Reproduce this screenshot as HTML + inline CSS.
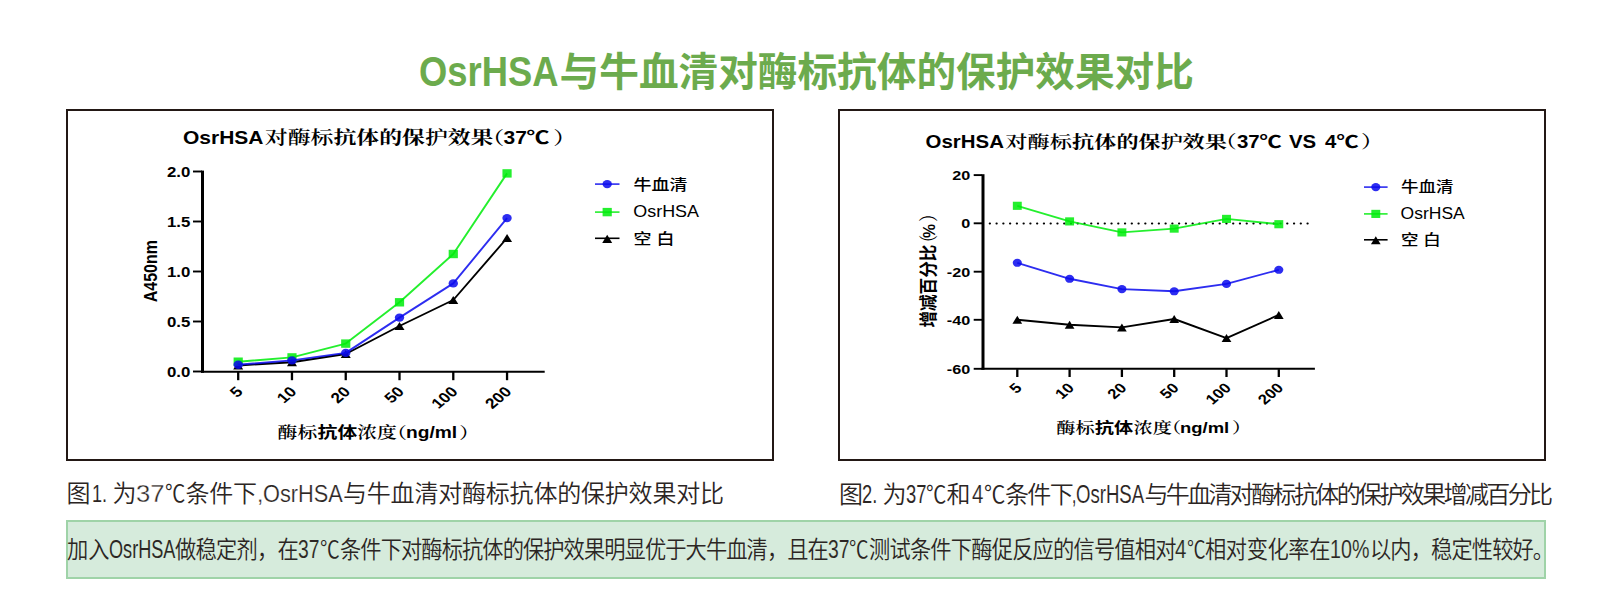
<!DOCTYPE html>
<html lang="zh-CN">
<head>
<meta charset="utf-8">
<title>OsrHSA与牛血清对酶标抗体的保护效果对比</title>
<style>
html,body{margin:0;padding:0;background:#fff;}
body{width:1619px;height:611px;position:relative;overflow:hidden;font-family:"Liberation Sans","Noto Sans CJK SC",sans-serif;}
.title{position:absolute;left:418.6px;top:42.1px;margin:0;white-space:nowrap;
  font-size:39.65px;line-height:58px;font-weight:bold;color:#6cab4d;letter-spacing:0;}
.title .lat{display:inline-block;font-size:43.2px;line-height:58px;transform:scaleX(0.842);transform-origin:0 50%;margin-right:-24.6px;vertical-align:baseline;}
.box{position:absolute;top:108.8px;height:352px;border:2.2px solid #231815;box-sizing:border-box;}
#b1{left:66.1px;width:708px;}
#b2{left:838px;width:708px;}
.cap{position:absolute;left:0;top:476.7px;width:1619px;height:34px;margin:0;font-size:24.0px;line-height:34px;font-weight:350;color:#2b2523;white-space:nowrap;}
.cap .sg{position:absolute;top:0;white-space:pre;}
.cap .in{display:inline-block;transform-origin:0 50%;line-height:1;white-space:pre;}
#n{top:533.0px;font-size:23.6px;color:#2b2523;}
#c2{top:477.5px;}
.note{position:absolute;left:66.2px;top:520px;width:1479.4px;height:58.6px;box-sizing:border-box;
  background:#d6ebdc;border:2px solid #9fd3a8;margin:0;}
svg{position:absolute;left:0;top:0;}
</style>
</head>
<body>
<h1 class="title"><span class="lat">OsrHSA</span>与牛血清对酶标抗体的保护效果对比</h1>
<div class="box" id="b1"></div>
<div class="box" id="b2"></div>
<svg width="1619" height="611" viewBox="0 0 1619 611">
<line x1="202.5" y1="170.6" x2="202.5" y2="372.8" stroke="#000" stroke-width="3"/>
<line x1="201" y1="371.8" x2="544.7" y2="371.8" stroke="#000" stroke-width="2"/>
<line x1="193" y1="371.5" x2="202" y2="371.5" stroke="#000" stroke-width="1.9"/>
<text transform="translate(190.3,376.6) scale(1.2,1)" font-family="'Liberation Sans','Noto Sans CJK SC',sans-serif" font-size="14" font-weight="bold" text-anchor="end" >0.0</text>
<line x1="193" y1="321.5" x2="202" y2="321.5" stroke="#000" stroke-width="1.9"/>
<text transform="translate(190.3,326.6) scale(1.2,1)" font-family="'Liberation Sans','Noto Sans CJK SC',sans-serif" font-size="14" font-weight="bold" text-anchor="end" >0.5</text>
<line x1="193" y1="271.5" x2="202" y2="271.5" stroke="#000" stroke-width="1.9"/>
<text transform="translate(190.3,276.6) scale(1.2,1)" font-family="'Liberation Sans','Noto Sans CJK SC',sans-serif" font-size="14" font-weight="bold" text-anchor="end" >1.0</text>
<line x1="193" y1="221.5" x2="202" y2="221.5" stroke="#000" stroke-width="1.9"/>
<text transform="translate(190.3,226.6) scale(1.2,1)" font-family="'Liberation Sans','Noto Sans CJK SC',sans-serif" font-size="14" font-weight="bold" text-anchor="end" >1.5</text>
<line x1="193" y1="171.5" x2="202" y2="171.5" stroke="#000" stroke-width="1.9"/>
<text transform="translate(190.3,176.6) scale(1.2,1)" font-family="'Liberation Sans','Noto Sans CJK SC',sans-serif" font-size="14" font-weight="bold" text-anchor="end" >2.0</text>
<line x1="238.20" y1="372" x2="238.20" y2="380.2" stroke="#000" stroke-width="2.3"/>
<text transform="translate(235.3,385.5) scale(1.2,1) rotate(-45)" font-family="'Liberation Sans','Noto Sans CJK SC',sans-serif" font-size="14.4" font-weight="bold" text-anchor="end" dy="10">5</text>
<line x1="291.97" y1="372" x2="291.97" y2="380.2" stroke="#000" stroke-width="2.3"/>
<text transform="translate(289.07,385.5) scale(1.2,1) rotate(-45)" font-family="'Liberation Sans','Noto Sans CJK SC',sans-serif" font-size="14.4" font-weight="bold" text-anchor="end" dy="10">10</text>
<line x1="345.74" y1="372" x2="345.74" y2="380.2" stroke="#000" stroke-width="2.3"/>
<text transform="translate(342.84,385.5) scale(1.2,1) rotate(-45)" font-family="'Liberation Sans','Noto Sans CJK SC',sans-serif" font-size="14.4" font-weight="bold" text-anchor="end" dy="10">20</text>
<line x1="399.51" y1="372" x2="399.51" y2="380.2" stroke="#000" stroke-width="2.3"/>
<text transform="translate(396.61,385.5) scale(1.2,1) rotate(-45)" font-family="'Liberation Sans','Noto Sans CJK SC',sans-serif" font-size="14.4" font-weight="bold" text-anchor="end" dy="10">50</text>
<line x1="453.28" y1="372" x2="453.28" y2="380.2" stroke="#000" stroke-width="2.3"/>
<text transform="translate(450.38,385.5) scale(1.2,1) rotate(-45)" font-family="'Liberation Sans','Noto Sans CJK SC',sans-serif" font-size="14.4" font-weight="bold" text-anchor="end" dy="10">100</text>
<line x1="507.05" y1="372" x2="507.05" y2="380.2" stroke="#000" stroke-width="2.3"/>
<text transform="translate(504.15,385.5) scale(1.2,1) rotate(-45)" font-family="'Liberation Sans','Noto Sans CJK SC',sans-serif" font-size="14.4" font-weight="bold" text-anchor="end" dy="10">200</text>
<text transform="translate(157.2,271.2) scale(1.2,1) rotate(-90)" font-family="'Liberation Sans','Noto Sans CJK SC',sans-serif" font-size="16" font-weight="bold" text-anchor="middle" >A450nm</text>
<text transform="translate(277.6,438.0) scale(1.253,1)" font-family="'Liberation Sans','Noto Serif CJK SC',serif" font-size="15.8" font-weight="600" text-anchor="start" >酶标</text><text transform="translate(317.6,438.0) scale(1.253,1)" font-family="'Liberation Sans','Noto Sans CJK SC',sans-serif" font-size="15.8" font-weight="bold" text-anchor="start" >抗体</text><text transform="translate(357.2,438.0) scale(1.253,1)" font-family="'Liberation Sans','Noto Serif CJK SC',serif" font-size="15.8" font-weight="600" text-anchor="start" >浓度</text><text transform="translate(387.0,438.0) scale(1.253,1)" font-family="'Liberation Sans','Noto Serif CJK SC',serif" font-size="15.8" font-weight="600" text-anchor="start" >（</text><text transform="translate(406.0,438.0) scale(1.2,1)" font-family="'Liberation Sans','Noto Sans CJK SC',sans-serif" font-size="16" font-weight="bold" text-anchor="start" >ng/ml</text><text transform="translate(459.3,438.0) scale(1.253,1)" font-family="'Liberation Sans','Noto Serif CJK SC',serif" font-size="15.8" font-weight="600" text-anchor="start" >）</text>
<text transform="translate(183.0,144.2) scale(1.154,1)" font-family="'Liberation Sans','Noto Sans CJK SC',sans-serif" font-size="18.2" font-weight="bold" text-anchor="start" >OsrHSA</text><text transform="translate(264.8,144.2) scale(1.272,1)" font-family="'Liberation Sans','Noto Serif CJK SC',serif" font-size="18.0" font-weight="600" text-anchor="start" >对酶标</text><text transform="translate(333.4,144.2) scale(1.272,1)" font-family="'Liberation Sans','Noto Serif CJK SC',serif" font-size="18.0" font-weight="700" text-anchor="start" >抗体的保</text><text transform="translate(425.0,144.2) scale(1.272,1)" font-family="'Liberation Sans','Noto Serif CJK SC',serif" font-size="18.0" font-weight="600" text-anchor="start" >护</text><text transform="translate(447.7,144.2) scale(1.272,1)" font-family="'Liberation Sans','Noto Serif CJK SC',serif" font-size="18.0" font-weight="700" text-anchor="start" >效果</text><text transform="translate(481.2,144.2) scale(1.272,1)" font-family="'Liberation Sans','Noto Serif CJK SC',serif" font-size="18.0" font-weight="600" text-anchor="start" >（</text><text transform="translate(503.6,144.2) scale(1.154,1)" font-family="'Liberation Sans','Noto Sans CJK SC',sans-serif" font-size="18.2" font-weight="bold" text-anchor="start" >37</text><text transform="translate(526.5,144.2) scale(1.272,1)" font-family="'Liberation Sans','Noto Sans CJK SC',sans-serif" font-size="18.0" font-weight="bold" text-anchor="start" >℃</text><text transform="translate(553.2,144.2) scale(1.272,1)" font-family="'Liberation Sans','Noto Serif CJK SC',serif" font-size="18.0" font-weight="600" text-anchor="start" >）</text>
<polyline points="238.20,365.50 291.97,362.20 345.74,354.00 399.51,326.00 453.28,300.00 507.05,238.00" fill="none" stroke="#000" stroke-width="1.9" stroke-linejoin="round"/>
<polygon points="238.20,361.40 243.20,369.60 233.20,369.60" fill="#000"/><polygon points="291.97,358.10 296.97,366.30 286.97,366.30" fill="#000"/><polygon points="345.74,349.90 350.74,358.10 340.74,358.10" fill="#000"/><polygon points="399.51,321.90 404.51,330.10 394.51,330.10" fill="#000"/><polygon points="453.28,295.90 458.28,304.10 448.28,304.10" fill="#000"/><polygon points="507.05,233.90 512.05,242.10 502.05,242.10" fill="#000"/>
<polyline points="238.20,361.70 291.97,357.40 345.74,343.60 399.51,302.30 453.28,254.00 507.05,173.40" fill="none" stroke="#00ec0c" stroke-width="1.9" stroke-linejoin="round" opacity="0.86"/>
<rect x="233.60" y="357.50" width="9.20" height="8.40" fill="#00ec0c" opacity="0.86"/><rect x="287.37" y="353.20" width="9.20" height="8.40" fill="#00ec0c" opacity="0.86"/><rect x="341.14" y="339.40" width="9.20" height="8.40" fill="#00ec0c" opacity="0.86"/><rect x="394.91" y="298.10" width="9.20" height="8.40" fill="#00ec0c" opacity="0.86"/><rect x="448.68" y="249.80" width="9.20" height="8.40" fill="#00ec0c" opacity="0.86"/><rect x="502.45" y="169.20" width="9.20" height="8.40" fill="#00ec0c" opacity="0.86"/>
<polyline points="238.20,364.70 291.97,360.40 345.74,352.90 399.51,317.60 453.28,283.40 507.05,218.10" fill="none" stroke="#0a0aee" stroke-width="1.9" stroke-linejoin="round" opacity="0.86"/>
<ellipse cx="238.2" cy="364.7" rx="4.70" ry="4.20" fill="#0a0aee" opacity="0.86"/><ellipse cx="291.96999999999997" cy="360.4" rx="4.70" ry="4.20" fill="#0a0aee" opacity="0.86"/><ellipse cx="345.74" cy="352.9" rx="4.70" ry="4.20" fill="#0a0aee" opacity="0.86"/><ellipse cx="399.51" cy="317.6" rx="4.70" ry="4.20" fill="#0a0aee" opacity="0.86"/><ellipse cx="453.28" cy="283.4" rx="4.70" ry="4.20" fill="#0a0aee" opacity="0.86"/><ellipse cx="507.05" cy="218.1" rx="4.70" ry="4.20" fill="#0a0aee" opacity="0.86"/>
<line x1="595" y1="184.1" x2="619.5" y2="184.1" stroke="#0a0aee" stroke-width="1.6" opacity="0.86"/>
<ellipse cx="607.2" cy="184.1" rx="4.70" ry="4.20" fill="#0a0aee" opacity="0.86"/>
<text transform="translate(633.5,189.5) scale(1.2,1)" font-family="'Liberation Sans','Noto Sans CJK SC',sans-serif" font-size="15" font-weight="500" text-anchor="start" >牛血清</text>
<line x1="595" y1="212.1" x2="619.5" y2="212.1" stroke="#00ec0c" stroke-width="1.6" opacity="0.86"/>
<rect x="602.60" y="207.90" width="9.20" height="8.40" fill="#00ec0c" opacity="0.86"/>
<text transform="translate(633.3,217.29999999999998) scale(1.107,1)" font-family="'Liberation Sans','Noto Sans CJK SC',sans-serif" font-size="16.2" font-weight="normal" text-anchor="start" >OsrHSA</text>
<line x1="595" y1="238.3" x2="619.5" y2="238.3" stroke="#000" stroke-width="1.6"/>
<polygon points="607.20,234.70 612.20,242.90 602.20,242.90" fill="#000"/>
<text transform="translate(633.5,243.70000000000002) scale(1.2,1)" font-family="'Liberation Sans','Noto Sans CJK SC',sans-serif" font-size="15" font-weight="500" text-anchor="start" >空 白</text>
<line x1="983" y1="174.2" x2="983" y2="369.8" stroke="#000" stroke-width="3"/>
<line x1="981.5" y1="368.8" x2="1314.9" y2="368.8" stroke="#000" stroke-width="2"/>
<line x1="973.7" y1="175.1" x2="982" y2="175.1" stroke="#000" stroke-width="1.9"/>
<text transform="translate(970.2,180.0) scale(1.2,1)" font-family="'Liberation Sans','Noto Sans CJK SC',sans-serif" font-size="13.5" font-weight="bold" text-anchor="end" >20</text>
<line x1="973.7" y1="223.3" x2="982" y2="223.3" stroke="#000" stroke-width="1.9"/>
<text transform="translate(970.2,228.20000000000002) scale(1.2,1)" font-family="'Liberation Sans','Noto Sans CJK SC',sans-serif" font-size="13.5" font-weight="bold" text-anchor="end" >0</text>
<line x1="973.7" y1="271.7" x2="982" y2="271.7" stroke="#000" stroke-width="1.9"/>
<text transform="translate(970.2,276.59999999999997) scale(1.2,1)" font-family="'Liberation Sans','Noto Sans CJK SC',sans-serif" font-size="13.5" font-weight="bold" text-anchor="end" >-20</text>
<line x1="973.7" y1="319.8" x2="982" y2="319.8" stroke="#000" stroke-width="1.9"/>
<text transform="translate(970.2,324.7) scale(1.2,1)" font-family="'Liberation Sans','Noto Sans CJK SC',sans-serif" font-size="13.5" font-weight="bold" text-anchor="end" >-40</text>
<line x1="973.7" y1="368.8" x2="982" y2="368.8" stroke="#000" stroke-width="1.9"/>
<text transform="translate(970.2,373.7) scale(1.2,1)" font-family="'Liberation Sans','Noto Sans CJK SC',sans-serif" font-size="13.5" font-weight="bold" text-anchor="end" >-60</text>
<line x1="1017.30" y1="369.2" x2="1017.30" y2="377" stroke="#000" stroke-width="2.3"/>
<text transform="translate(1014.4,381.8) scale(1.2,1) rotate(-45)" font-family="'Liberation Sans','Noto Sans CJK SC',sans-serif" font-size="13.9" font-weight="bold" text-anchor="end" dy="10">5</text>
<line x1="1069.60" y1="369.2" x2="1069.60" y2="377" stroke="#000" stroke-width="2.3"/>
<text transform="translate(1066.7,381.8) scale(1.2,1) rotate(-45)" font-family="'Liberation Sans','Noto Sans CJK SC',sans-serif" font-size="13.9" font-weight="bold" text-anchor="end" dy="10">10</text>
<line x1="1121.90" y1="369.2" x2="1121.90" y2="377" stroke="#000" stroke-width="2.3"/>
<text transform="translate(1119.0,381.8) scale(1.2,1) rotate(-45)" font-family="'Liberation Sans','Noto Sans CJK SC',sans-serif" font-size="13.9" font-weight="bold" text-anchor="end" dy="10">20</text>
<line x1="1174.20" y1="369.2" x2="1174.20" y2="377" stroke="#000" stroke-width="2.3"/>
<text transform="translate(1171.3,381.8) scale(1.2,1) rotate(-45)" font-family="'Liberation Sans','Noto Sans CJK SC',sans-serif" font-size="13.9" font-weight="bold" text-anchor="end" dy="10">50</text>
<line x1="1226.50" y1="369.2" x2="1226.50" y2="377" stroke="#000" stroke-width="2.3"/>
<text transform="translate(1223.6,381.8) scale(1.2,1) rotate(-45)" font-family="'Liberation Sans','Noto Sans CJK SC',sans-serif" font-size="13.9" font-weight="bold" text-anchor="end" dy="10">100</text>
<line x1="1278.80" y1="369.2" x2="1278.80" y2="377" stroke="#000" stroke-width="2.3"/>
<text transform="translate(1275.9,381.8) scale(1.2,1) rotate(-45)" font-family="'Liberation Sans','Noto Sans CJK SC',sans-serif" font-size="13.9" font-weight="bold" text-anchor="end" dy="10">200</text>
<line x1="989.7" y1="223.5" x2="1309" y2="223.5" stroke="#000" stroke-width="2" stroke-linecap="round" stroke-dasharray="0.3 6.46"/>
<text transform="translate(935.3,327.6) scale(1.09,1) rotate(-90)" font-family="'Liberation Sans','Noto Sans CJK SC',sans-serif" font-size="16.6" font-weight="700" text-anchor="start" >增减百分比</text>
<text transform="translate(935.5,251.0) scale(1.2,1) rotate(-90)" font-family="'Liberation Sans','Noto Serif CJK SC',serif" font-size="16.2" font-weight="500" text-anchor="start" >（</text>
<text transform="translate(935.3,237.9) scale(1.1,1) rotate(-90)" font-family="'Liberation Sans','Noto Sans CJK SC',sans-serif" font-size="15.8" font-weight="bold" text-anchor="start" >%</text>
<text transform="translate(935.5,222.0) scale(1.2,1) rotate(-90)" font-family="'Liberation Sans','Noto Serif CJK SC',serif" font-size="16.2" font-weight="500" text-anchor="start" >）</text>
<text transform="translate(1056.2,433.3) scale(1.255,1)" font-family="'Liberation Sans','Noto Serif CJK SC',serif" font-size="15.3" font-weight="600" text-anchor="start" >酶标</text><text transform="translate(1094.8,433.3) scale(1.255,1)" font-family="'Liberation Sans','Noto Sans CJK SC',sans-serif" font-size="15.3" font-weight="bold" text-anchor="start" >抗体</text><text transform="translate(1133.6,433.3) scale(1.255,1)" font-family="'Liberation Sans','Noto Serif CJK SC',serif" font-size="15.3" font-weight="600" text-anchor="start" >浓度</text><text transform="translate(1162.0,433.3) scale(1.255,1)" font-family="'Liberation Sans','Noto Serif CJK SC',serif" font-size="15.3" font-weight="600" text-anchor="start" >（</text><text transform="translate(1180.0,433.3) scale(1.2,1)" font-family="'Liberation Sans','Noto Sans CJK SC',sans-serif" font-size="15.4" font-weight="bold" text-anchor="start" >ng/ml</text><text transform="translate(1232.0,433.3) scale(1.255,1)" font-family="'Liberation Sans','Noto Serif CJK SC',serif" font-size="15.3" font-weight="600" text-anchor="start" >）</text>
<text transform="translate(925.6,147.6) scale(1.154,1)" font-family="'Liberation Sans','Noto Sans CJK SC',sans-serif" font-size="17.7" font-weight="bold" text-anchor="start" >OsrHSA</text><text transform="translate(1005.3,147.6) scale(1.269,1)" font-family="'Liberation Sans','Noto Serif CJK SC',serif" font-size="17.5" font-weight="600" text-anchor="start" >对酶标</text><text transform="translate(1072.0,147.6) scale(1.269,1)" font-family="'Liberation Sans','Noto Serif CJK SC',serif" font-size="17.5" font-weight="700" text-anchor="start" >抗体的保</text><text transform="translate(1160.8,147.6) scale(1.269,1)" font-family="'Liberation Sans','Noto Serif CJK SC',serif" font-size="17.5" font-weight="600" text-anchor="start" >护</text><text transform="translate(1182.6,147.6) scale(1.269,1)" font-family="'Liberation Sans','Noto Serif CJK SC',serif" font-size="17.5" font-weight="700" text-anchor="start" >效果</text><text transform="translate(1214.6,147.6) scale(1.269,1)" font-family="'Liberation Sans','Noto Serif CJK SC',serif" font-size="17.5" font-weight="600" text-anchor="start" >（</text><text transform="translate(1237.0,147.6) scale(1.154,1)" font-family="'Liberation Sans','Noto Sans CJK SC',sans-serif" font-size="17.7" font-weight="bold" text-anchor="start" >37</text><text transform="translate(1259.5,147.6) scale(1.269,1)" font-family="'Liberation Sans','Noto Sans CJK SC',sans-serif" font-size="17.5" font-weight="bold" text-anchor="start" >℃</text><text transform="translate(1289.0,147.6) scale(1.154,1)" font-family="'Liberation Sans','Noto Sans CJK SC',sans-serif" font-size="17.7" font-weight="bold" text-anchor="start" >VS</text><text transform="translate(1325.0,147.6) scale(1.154,1)" font-family="'Liberation Sans','Noto Sans CJK SC',sans-serif" font-size="17.7" font-weight="bold" text-anchor="start" >4</text><text transform="translate(1336.5,147.6) scale(1.269,1)" font-family="'Liberation Sans','Noto Sans CJK SC',sans-serif" font-size="17.5" font-weight="bold" text-anchor="start" >℃</text><text transform="translate(1360.9,147.6) scale(1.269,1)" font-family="'Liberation Sans','Noto Serif CJK SC',serif" font-size="17.5" font-weight="600" text-anchor="start" >）</text>
<polyline points="1017.30,319.80 1069.60,324.70 1121.90,327.40 1174.20,319.00 1226.50,338.10 1278.80,314.90" fill="none" stroke="#000" stroke-width="1.9" stroke-linejoin="round"/>
<polygon points="1017.30,315.82 1022.15,323.78 1012.45,323.78" fill="#000"/><polygon points="1069.60,320.72 1074.45,328.68 1064.75,328.68" fill="#000"/><polygon points="1121.90,323.42 1126.75,331.38 1117.05,331.38" fill="#000"/><polygon points="1174.20,315.02 1179.05,322.98 1169.35,322.98" fill="#000"/><polygon points="1226.50,334.12 1231.35,342.08 1221.65,342.08" fill="#000"/><polygon points="1278.80,310.92 1283.65,318.88 1273.95,318.88" fill="#000"/>
<polyline points="1017.30,205.80 1069.60,221.40 1121.90,232.40 1174.20,228.60 1226.50,218.90 1278.80,224.20" fill="none" stroke="#00ec0c" stroke-width="1.9" stroke-linejoin="round" opacity="0.86"/>
<rect x="1012.84" y="201.73" width="8.92" height="8.15" fill="#00ec0c" opacity="0.86"/><rect x="1065.14" y="217.33" width="8.92" height="8.15" fill="#00ec0c" opacity="0.86"/><rect x="1117.44" y="228.33" width="8.92" height="8.15" fill="#00ec0c" opacity="0.86"/><rect x="1169.74" y="224.53" width="8.92" height="8.15" fill="#00ec0c" opacity="0.86"/><rect x="1222.04" y="214.83" width="8.92" height="8.15" fill="#00ec0c" opacity="0.86"/><rect x="1274.34" y="220.13" width="8.92" height="8.15" fill="#00ec0c" opacity="0.86"/>
<polyline points="1017.30,262.80 1069.60,278.80 1121.90,289.10 1174.20,291.30 1226.50,283.90 1278.80,269.80" fill="none" stroke="#0a0aee" stroke-width="1.9" stroke-linejoin="round" opacity="0.86"/>
<ellipse cx="1017.3" cy="262.8" rx="4.56" ry="4.07" fill="#0a0aee" opacity="0.86"/><ellipse cx="1069.6" cy="278.8" rx="4.56" ry="4.07" fill="#0a0aee" opacity="0.86"/><ellipse cx="1121.8999999999999" cy="289.1" rx="4.56" ry="4.07" fill="#0a0aee" opacity="0.86"/><ellipse cx="1174.1999999999998" cy="291.3" rx="4.56" ry="4.07" fill="#0a0aee" opacity="0.86"/><ellipse cx="1226.5" cy="283.9" rx="4.56" ry="4.07" fill="#0a0aee" opacity="0.86"/><ellipse cx="1278.8" cy="269.8" rx="4.56" ry="4.07" fill="#0a0aee" opacity="0.86"/>
<line x1="1364" y1="187.1" x2="1387.6" y2="187.1" stroke="#0a0aee" stroke-width="1.6" opacity="0.86"/>
<ellipse cx="1375.8" cy="187.1" rx="4.56" ry="4.07" fill="#0a0aee" opacity="0.86"/>
<text transform="translate(1401.0,192.29999999999998) scale(1.2,1)" font-family="'Liberation Sans','Noto Sans CJK SC',sans-serif" font-size="14.6" font-weight="500" text-anchor="start" >牛血清</text>
<line x1="1364" y1="213.9" x2="1387.6" y2="213.9" stroke="#00ec0c" stroke-width="1.6" opacity="0.86"/>
<rect x="1371.34" y="209.83" width="8.92" height="8.15" fill="#00ec0c" opacity="0.86"/>
<text transform="translate(1400.6,218.9) scale(1.107,1)" font-family="'Liberation Sans','Noto Sans CJK SC',sans-serif" font-size="15.8" font-weight="normal" text-anchor="start" >OsrHSA</text>
<line x1="1364" y1="239.8" x2="1387.6" y2="239.8" stroke="#000" stroke-width="1.6"/>
<polygon points="1375.80,236.32 1380.65,244.28 1370.95,244.28" fill="#000"/>
<text transform="translate(1401.0,245.0) scale(1.2,1)" font-family="'Liberation Sans','Noto Sans CJK SC',sans-serif" font-size="14.6" font-weight="500" text-anchor="start" >空 白</text>
</svg>
<p class="cap" id="c1"><span class="sg" style="left:66.60px"><span class="in" id="c1s0" style="letter-spacing:1.700px;">图</span></span><span class="sg" style="left:92.30px"><span class="in lat" id="c1s1" style="font-size:24.7px;-webkit-text-stroke:0.08px #fff;transform:scaleX(0.7322);">1. </span></span><span class="sg" style="left:112.40px"><span class="in" id="c1s2" style="letter-spacing:0.000px;">为</span></span><span class="sg" style="left:136.40px"><span class="in lat" id="c1s3" style="font-size:24.7px;-webkit-text-stroke:0.35px #fff;transform:scaleX(1.0412);">37</span></span><span class="sg" style="left:165.00px"><span class="in" id="c1s4" style="transform:scaleX(0.8500);">℃</span></span><span class="sg" style="left:185.40px"><span class="in" id="c1s5" style="letter-spacing:-0.133px;">条件下</span></span><span class="sg" style="left:257.00px"><span class="in lat" id="c1s6" style="font-size:24.7px;-webkit-text-stroke:0.27px #fff;transform:scaleX(0.9185);">,</span></span><span class="sg" style="left:263.30px"><span class="in lat" id="c1s7" style="font-size:24.7px;-webkit-text-stroke:0.23px #fff;transform:scaleX(0.8804);">OsrHSA</span></span><span class="sg" style="left:343.00px"><span class="in" id="c1s8" style="letter-spacing:-0.200px;">与牛血清对酶标抗体的保护效果对比</span></span></p>
<p class="cap" id="c2"><span class="sg" style="left:839.00px"><span class="in" id="c2s0" style="letter-spacing:-0.700px;">图</span></span><span class="sg" style="left:862.30px"><span class="in lat" id="c2s1" style="font-size:24.9px;-webkit-text-stroke:0.08px #fff;transform:scaleX(0.7332);">2. </span></span><span class="sg" style="left:882.60px"><span class="in" id="c2s2" style="letter-spacing:-1.100px;">为</span></span><span class="sg" style="left:905.50px"><span class="in lat" id="c2s3" style="font-size:24.9px;-webkit-text-stroke:0.09px #fff;transform:scaleX(0.7404);">37</span></span><span class="sg" style="left:926.00px"><span class="in" id="c2s4" style="transform:scaleX(0.8500);">℃</span></span><span class="sg" style="left:946.40px"><span class="in" id="c2s5" style="letter-spacing:1.800px;">和</span></span><span class="sg" style="left:972.20px"><span class="in lat" id="c2s6" style="font-size:24.9px;-webkit-text-stroke:0.17px #fff;transform:scaleX(0.8235);">4</span></span><span class="sg" style="left:983.60px"><span class="in" id="c2s7" style="transform:scaleX(0.8917);">℃</span></span><span class="sg" style="left:1005.00px"><span class="in" id="c2s8" style="letter-spacing:-1.667px;">条件下</span></span><span class="sg" style="left:1072.00px"><span class="in lat" id="c2s9" style="font-size:24.9px;-webkit-text-stroke:0.00px #fff;transform:scaleX(0.6212);">,</span></span><span class="sg" style="left:1076.30px"><span class="in lat" id="c2s10" style="font-size:24.9px;-webkit-text-stroke:0.10px #fff;transform:scaleX(0.7460);">OsrHSA</span></span><span class="sg" style="left:1144.40px"><span class="in" id="c2s11" style="letter-spacing:-2.632px;">与牛血清对酶标抗体的保护效果增减百分比</span></span></p>
<div class="note"></div>
<p class="cap" id="n"><span class="sg" style="left:66.60px"><span class="in" id="ns0" style="letter-spacing:-0.038px;transform:scaleX(0.9);">加入</span></span><span class="sg" style="left:109.00px"><span class="in lat" id="ns1" style="font-size:25.0px;-webkit-text-stroke:0.07px #d6ebdc;transform:scaleX(0.7242);">OsrHSA</span></span><span class="sg" style="left:175.40px"><span class="in" id="ns2" style="letter-spacing:-0.834px;transform:scaleX(0.9);">做稳定剂，在</span></span><span class="sg" style="left:298.30px"><span class="in lat" id="ns3" style="font-size:25.0px;-webkit-text-stroke:0.12px #d6ebdc;transform:scaleX(0.7730);">37</span></span><span class="sg" style="left:319.80px"><span class="in" id="ns4" style="transform:scaleX(0.8392);">℃</span></span><span class="sg" style="left:339.60px"><span class="in" id="ns5" style="letter-spacing:-1.006px;transform:scaleX(0.9);">条件下对酶标抗体的保护效果明显优于大牛血清，且在</span></span><span class="sg" style="left:827.50px"><span class="in lat" id="ns6" style="font-size:25.0px;-webkit-text-stroke:0.13px #d6ebdc;transform:scaleX(0.7766);">37</span></span><span class="sg" style="left:849.10px"><span class="in" id="ns7" style="transform:scaleX(0.8307);">℃</span></span><span class="sg" style="left:868.70px"><span class="in" id="ns8" style="letter-spacing:-0.875px;transform:scaleX(0.9);">测试条件下酶促反应的信号值相对</span></span><span class="sg" style="left:1175.40px"><span class="in lat" id="ns9" style="font-size:25.0px;-webkit-text-stroke:0.17px #d6ebdc;transform:scaleX(0.8198);">4</span></span><span class="sg" style="left:1186.80px"><span class="in" id="ns10" style="transform:scaleX(0.7883);">℃</span></span><span class="sg" style="left:1205.40px"><span class="in" id="ns11" style="letter-spacing:-0.446px;transform:scaleX(0.9);">相对变化率在</span></span><span class="sg" style="left:1330.40px"><span class="in lat" id="ns12" style="font-size:25.0px;-webkit-text-stroke:0.14px #d6ebdc;transform:scaleX(0.7873);">10%</span></span><span class="sg" style="left:1369.80px"><span class="in" id="ns13" style="letter-spacing:-0.976px;transform:scaleX(0.9);">以内，稳定性较好。</span></span></p>
</body>
</html>
